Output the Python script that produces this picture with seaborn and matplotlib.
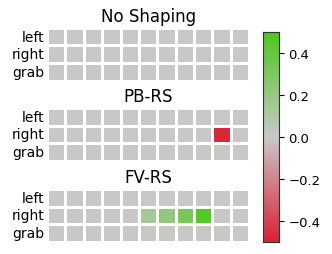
import numpy as np
import seaborn as sns
import matplotlib.pyplot as plt
from matplotlib.colors import LinearSegmentedColormap

# Données
titres = ["No Shaping", "PB-RS", "FV-RS"]
actions = ["left", "right", "grab"]
n_pos = 11

no_shaping = [[0] * n_pos, [0] * n_pos, [0] * n_pos]
pb_rs = [[0] * n_pos,
         [0, 0, 0, 0, 0, 0, 0, 0, 0, -0.48, 0],
         [0] * n_pos]
fv_rs = [[0] * n_pos,
         [0, 0, 0, 0, 0, 0.14, 0.22, 0.33, 0.47, 0, 0],
         [0] * n_pos]

cmap = LinearSegmentedColormap.from_list("rg", ["#dc1f35", "#c8c8c8", "#4cc81e"])

fig = plt.figure(figsize=(3.32, 2.55), dpi=100)
positions = [0.679, 0.365, 0.047]
cax = fig.add_axes([0.792, 0.047, 0.048, 0.824])

for i, (titre, data) in enumerate(zip(titres, [no_shaping, pb_rs, fv_rs])):
    ax = fig.add_axes([0.1420, positions[i], 0.608, 0.208])
    sns.heatmap(np.array(data), ax=ax, cmap=cmap, vmin=-0.5, vmax=0.5,
                linewidths=2, linecolor="white", square=False,
                cbar=(i == 0), cbar_ax=cax if i == 0 else None,
                xticklabels=False, yticklabels=actions)
    ax.set_title(titre, fontsize=12, pad=5)
    ax.tick_params(axis="y", length=0, labelsize=10, rotation=0, pad=2)

cax.tick_params(labelsize=9.5)
cax.set_yticks([-0.4, -0.2, 0.0, 0.2, 0.4])
for s in cax.spines.values():
    s.set_visible(True)
    s.set_edgecolor("#333333")

fig.savefig("out.png", dpi=100)
